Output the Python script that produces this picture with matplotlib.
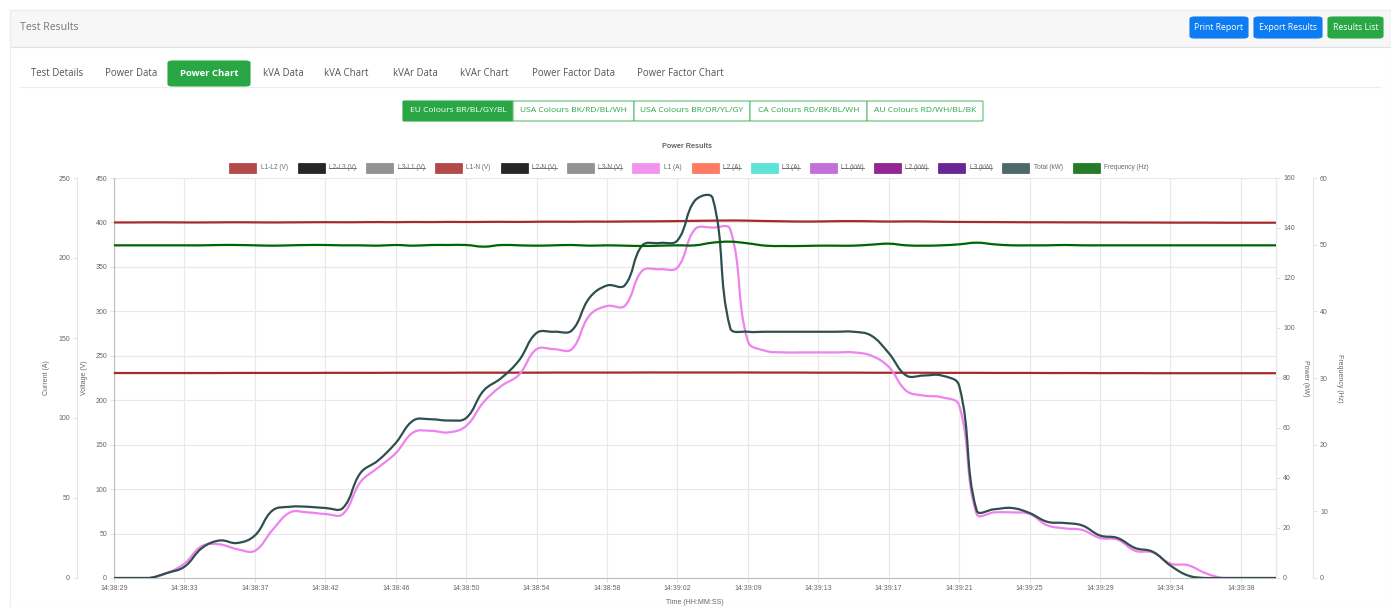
import matplotlib
matplotlib.use("Agg")
import matplotlib.pyplot as plt
import numpy as np
from matplotlib.patches import Rectangle, FancyBboxPatch, PathPatch
from matplotlib.path import Path
from matplotlib.lines import Line2D

# ---------------- data ----------------
time_labels = ["14:38:29", "14:38:33", "14:38:37", "14:38:42", "14:38:46", "14:38:50",
               "14:38:54", "14:38:58", "14:39:02", "14:39:09", "14:39:13", "14:39:17",
               "14:39:21", "14:39:25", "14:39:29", "14:39:34", "14:39:38"]
label_every = 4

total_kw = [0, 0, 0, 2, 4.5, 12, 15, 14, 17, 27,
            28.5, 28.5, 28, 28, 42, 47, 54, 63, 63.5, 63,
            64, 75, 80, 87, 98, 98.5, 99, 112, 117, 117,
            133, 134, 135, 151, 152, 100, 98.5, 98.5, 98.5, 98.5,
            98.5, 98.5, 98.5, 97, 90, 81, 81, 81, 77, 27,
            27.5, 28, 26, 22.5, 22, 21, 17, 16, 12, 10.5,
            5, 1, 0, 0, 0, 0, 0]

l1_amps = [0, 0, 0, 3, 9, 20, 21, 18, 17, 30,
           41, 41, 40, 40, 60, 69, 78, 91, 92, 91,
           95, 110, 120, 127, 143, 143, 143, 164, 170, 170,
           192, 193, 194, 218, 219, 218, 148, 142, 141, 141,
           141, 141, 141, 139, 132, 117, 114, 113, 108, 40,
           41, 41, 40, 33, 31, 30, 25, 24, 17, 16,
           9, 8, 3, 0, 0, 0, 0]

l1_l2_v = [400.0, 400.0, 400.1, 400.1, 400.0, 400.0, 400.1, 400.2, 400.1, 400.0,
           400.1, 400.2, 400.3, 400.2, 400.3, 400.4, 400.3, 400.5, 400.4, 400.6,
           400.5, 400.6, 400.7, 400.6, 400.8, 400.9, 400.8, 401.0, 400.9, 401.1,
           401.2, 401.3, 401.5, 401.8, 402.0, 402.2, 402.0, 401.6, 401.3, 401.0,
           401.1, 401.4, 401.5, 401.3, 401.0, 401.2, 401.1, 400.8, 400.6, 400.5,
           400.4, 400.3, 400.2, 400.2, 400.1, 400.1, 400.0, 400.0, 399.9, 399.9,
           399.8, 399.8, 399.8, 399.7, 399.7, 399.7, 399.7]

l1_n_v = [230.6, 230.6, 230.6, 230.6, 230.6, 230.6, 230.6, 230.7, 230.7, 230.7,
          230.7, 230.7, 230.8, 230.8, 230.8, 230.8, 230.9, 230.9, 230.9, 230.9,
          231.0, 231.0, 231.0, 231.0, 231.0, 231.1, 231.1, 231.1, 231.1, 231.1,
          231.2, 231.2, 231.2, 231.2, 231.2, 231.2, 231.2, 231.1, 231.1, 231.1,
          231.0, 231.0, 231.0, 230.9, 230.9, 230.9, 230.9, 230.8, 230.8, 230.8,
          230.7, 230.7, 230.7, 230.6, 230.6, 230.6, 230.5, 230.5, 230.5, 230.4,
          230.4, 230.4, 230.4, 230.4, 230.4, 230.4, 230.4]

freq_hz = [49.9, 49.9, 49.9, 49.9, 49.9, 49.9, 49.95, 49.95, 49.9, 49.85,
           49.9, 49.95, 49.95, 49.9, 49.9, 49.85, 49.95, 49.85, 49.95, 49.95,
           49.95, 49.7, 49.95, 49.9, 49.85, 49.9, 49.95, 49.85, 49.9, 49.85,
           49.8, 49.85, 49.9, 49.9, 50.3, 50.45, 50.2, 49.85, 49.8, 49.8,
           49.85, 49.85, 49.85, 50.0, 50.15, 49.9, 49.85, 49.9, 50.05, 50.3,
           50.05, 49.9, 49.9, 49.9, 49.95, 49.9, 49.9, 49.9, 49.9, 49.9,
           49.9, 49.9, 49.9, 49.9, 49.9, 49.9, 49.9]

legend_names = ["L1-L2 (V)", "L2-L3 (V)", "L3-L1 (V)", "L1-N (V)", "L2-N (V)", "L3-N (V)",
                "L1 (A)", "L2 (A)", "L3 (A)", "L1 (kW)", "L2 (kW)", "L3 (kW)",
                "Total (kW)", "Frequency (Hz)"]
legend_colors = ["#a52a2a", "#000000", "#808080", "#a52a2a", "#000000", "#808080",
                 "#ee82ee", "#ff6347", "#40e0d0", "#ba55d3", "#800080", "#4b0082",
                 "#2f4f4f", "#006400"]
legend_hidden = [False, True, True, False, True, True,
                 False, True, True, True, True, True, False, False]

tabs = ["Test Details", "Power Data", "Power Chart", "kVA Data", "kVA Chart", "kVAr Data",
        "kVAr Chart", "Power Factor Data", "Power Factor Chart"]
colour_buttons = ["EU Colours BR/BL/GY/BL", "USA Colours BK/RD/BL/WH", "USA Colours BR/OR/YL/GY",
                  "CA Colours RD/BK/BL/WH", "AU Colours RD/WH/BL/BK"]
top_buttons = ["Print Report", "Export Results", "Results List"]

# ---------------- figure ----------------
W, H = 1391, 607
fig = plt.figure(figsize=(W / 100, H / 100), dpi=100)
fig.patch.set_facecolor("white")
PX = 0.72  # points per pixel at 100 dpi


def fx(x):
    return x / W


def fy(y):
    return 1 - y / H


PAGE_FONT = ["Open Sans", "DejaVu Sans"]
CHART_FONT = ["Liberation Sans", "DejaVu Sans"]

# header bar
fig.patches.append(Rectangle((fx(10), fy(47)), fx(1391) - fx(10), (47 - 10) / H,
                             transform=fig.transFigure, fc="#f7f7f7", ec="#e2e2e2", lw=0.8, zorder=0))
fig.patches.append(Rectangle((fx(10), fy(607)), fx(1391) - fx(10), (607 - 10) / H,
                             transform=fig.transFigure, fc="none", ec="#ececec", lw=0.8, zorder=0))
fig.text(fx(20), fy(28), "Test Results", fontsize=7.6, color="#777777", va="center", ha="left",
         family=PAGE_FONT)


def button(x0, x1, y0, y1, text, fc, tc, ec=None, fs=5.5, bold=False, radius=2):
    p = FancyBboxPatch((fx(x0), fy(y1)), fx(x1) - fx(x0), (y1 - y0) / H,
                       boxstyle="round,pad=0,rounding_size=%f" % (radius / H),
                       transform=fig.transFigure, fc=fc, ec=ec if ec else fc, lw=0.8, zorder=1)
    fig.patches.append(p)
    fig.text(fx((x0 + x1) / 2), fy((y0 + y1) / 2), text, fontsize=fs, color=tc, ha="center",
             va="center", family=PAGE_FONT, fontweight="bold" if bold else "normal", zorder=2)


btn_x = [(1190, 1248), (1254, 1322), (1328, 1383)]
btn_c = ["#0d7bf2", "#0d7bf2", "#2aa745"]
for (x0, x1), t, c in zip(btn_x, top_buttons, btn_c):
    button(x0, x1, 17, 38, t, c, "white", fs=6.2)

# tabs
tab_x = [57, 131, 209, 283, 346, 415, 484, 573, 680]
for t, x in zip(tabs, tab_x):
    if t == "Power Chart":
        button(168, 250, 61, 86, t, "#2aa745", "white", fs=6.8, bold=True)
    else:
        fig.text(fx(x), fy(73), t, fontsize=6.9, color="#555555", ha="center", va="center",
                 family=PAGE_FONT)
fig.add_artist(Line2D([fx(20), fx(1380)], [fy(87), fy(87)], color="#ececec", lw=0.8,
                      transform=fig.transFigure))

# colour scheme buttons
cb_x = [(403, 513), (513, 634), (634, 750), (750, 867), (867, 983)]
for i, ((x0, x1), t) in enumerate(zip(cb_x, colour_buttons)):
    if i == 0:
        button(x0, x1, 101, 121, t, "#2aa745", "white", fs=6.1, radius=0.5)
    else:
        button(x0, x1, 101, 121, t, "white", "#2aa745", ec="#5cbf72", fs=6.1, radius=0.5)

# ---------------- chart ----------------
L, R, T, B = 114, 1276, 178, 578
ax = fig.add_axes([fx(L), fy(B), (R - L) / W, (B - T) / H])
n = len(total_kw)
ax.set_xlim(0, n - 1)
ax.set_ylim(0, 450)
ax.set_yticks(np.arange(0, 451, 50))
ax.set_xticks(np.arange(0, n, label_every))
ax.set_xticklabels(time_labels)
ax.grid(True, color="#e8e8e8", lw=0.8)
ax.set_axisbelow(True)
ax.spines["top"].set_visible(False)
ax.spines["right"].set_color("#e8e8e8")
ax.spines["left"].set_color("#bdbdbd")
ax.spines["bottom"].set_color("#bdbdbd")
ax.tick_params(axis="both", labelsize=5, labelcolor="#666666", color="#dddddd",
               length=4 * PX, width=0.6, direction="out", pad=3 * PX)
for lab in ax.get_xticklabels() + ax.get_yticklabels():
    lab.set_family(CHART_FONT)

ax_c = ax.twinx()
ax_c.set_ylim(0, 250)
ax_c.set_yticks(np.arange(0, 251, 50))
ax_c.yaxis.set_ticks_position("left")
ax_c.spines["left"].set_visible(True)
ax_c.spines["left"].set_position(("outward", 37 * PX))
ax_c.spines["left"].set_color("#e3e3e3")
for s in ["right", "top", "bottom"]:
    ax_c.spines[s].set_visible(False)

ax_p = ax.twinx()
ax_p.set_ylim(0, 160)
ax_p.set_yticks(np.arange(0, 161, 20))
for s in ["left", "top", "bottom"]:
    ax_p.spines[s].set_visible(False)
ax_p.spines["right"].set_color("#e8e8e8")

ax_f = ax.twinx()
ax_f.set_ylim(0, 60)
ax_f.set_yticks(np.arange(0, 61, 10))
ax_f.spines["right"].set_position(("outward", 37 * PX))
ax_f.spines["right"].set_color("#e3e3e3")
for s in ["left", "top", "bottom"]:
    ax_f.spines[s].set_visible(False)

for a in (ax_c, ax_p, ax_f):
    a.tick_params(axis="y", labelsize=5, labelcolor="#666666", color="#dddddd",
                  length=4 * PX, width=0.6, pad=3 * PX)
    for lab in a.get_yticklabels():
        lab.set_family(CHART_FONT)
    a.patch.set_visible(False)


def smooth_line(axis, ys, color, lw=1.6, tension=0.4, z=3):
    xs = np.arange(len(ys), dtype=float)
    pts = np.column_stack([xs, np.asarray(ys, dtype=float)])
    tr = axis.transData
    d = tr.transform(pts)
    m = len(d)
    prev_cp = np.zeros_like(d)
    next_cp = np.zeros_like(d)
    for i in range(m):
        p0 = d[max(i - 1, 0)]
        p1 = d[i]
        p2 = d[min(i + 1, m - 1)]
        d01 = np.hypot(*(p1 - p0))
        d12 = np.hypot(*(p2 - p1))
        tot = d01 + d12
        s01 = d01 / tot if tot else 0.0
        s12 = d12 / tot if tot else 0.0
        prev_cp[i] = p1 - tension * s01 * (p2 - p0)
        next_cp[i] = p1 + tension * s12 * (p2 - p0)
    # keep control points inside the chart area
    y_lo, y_hi = tr.transform([(0, axis.get_ylim()[0]), (0, axis.get_ylim()[1])])[:, 1]
    prev_cp[:, 1] = np.clip(prev_cp[:, 1], y_lo, y_hi)
    next_cp[:, 1] = np.clip(next_cp[:, 1], y_lo, y_hi)
    inv = tr.inverted()
    prev_cp = inv.transform(prev_cp)
    next_cp = inv.transform(next_cp)
    verts = [pts[0]]
    codes = [Path.MOVETO]
    for i in range(m - 1):
        verts += [next_cp[i], prev_cp[i + 1], pts[i + 1]]
        codes += [Path.CURVE4] * 3
    patch = PathPatch(Path(verts, codes), fc="none", ec=color, lw=lw, transform=tr,
                      zorder=z, capstyle="round", joinstyle="round")
    axis.add_patch(patch)


smooth_line(ax_f, freq_hz, legend_colors[13], z=2)
smooth_line(ax_p, total_kw, legend_colors[12], z=3)
smooth_line(ax_c, l1_amps, legend_colors[6], z=2)
smooth_line(ax, l1_n_v, legend_colors[3], z=4)
smooth_line(ax, l1_l2_v, legend_colors[0], z=4)

# axis titles
fig.text(fx(47), fy(378), "Current (A)", rotation=90, fontsize=5, color="#666666",
         ha="center", va="center", family=CHART_FONT)
fig.text(fx(85), fy(378), "Voltage (V)", rotation=90, fontsize=5, color="#666666",
         ha="center", va="center", family=CHART_FONT)
fig.text(fx(1305), fy(378), "Power (kW)", rotation=270, fontsize=5, color="#666666",
         ha="center", va="center", family=CHART_FONT)
fig.text(fx(1340), fy(378), "Frequency (Hz)", rotation=270, fontsize=5, color="#666666",
         ha="center", va="center", family=CHART_FONT)
fig.text(fx(695), fy(603), "Time (HH:MM:SS)", fontsize=5, color="#666666",
         ha="center", va="center", family=CHART_FONT)
fig.text(fx(687), fy(147), "Power Results", fontsize=5.2, color="#666666", fontweight="bold",
         ha="center", va="center", family=CHART_FONT)

# legend (manual, Chart.js style with struck-through hidden entries)
fig.canvas.draw()
renderer = fig.canvas.get_renderer()
box_w, box_h, gap_t, gap_e = 27, 10, 4.5, 10
widths = []
total_w = 0
for name in legend_names:
    t = fig.text(0, 0, name, fontsize=4.7, family=CHART_FONT)
    w = t.get_window_extent(renderer).width
    t.remove()
    widths.append(w)
    total_w += box_w + gap_t + w
total_w += gap_e * (len(legend_names) - 1)
x = 689 - total_w / 2
ly = 168
for name, col, hid, w in zip(legend_names, legend_colors, legend_hidden, widths):
    fig.patches.append(Rectangle((fx(x), fy(ly + box_h / 2)), box_w / W, box_h / H,
                                 transform=fig.transFigure, fc=col, ec=col, lw=0.5, alpha=0.85))
    tx = x + box_w + gap_t
    fig.text(fx(tx), fy(ly), name, fontsize=4.7, color="#666666", ha="left", va="center",
             family=CHART_FONT)
    if hid:
        fig.add_artist(Line2D([fx(tx), fx(tx + w)], [fy(ly), fy(ly)], color="#666666", lw=0.6,
                              transform=fig.transFigure))
    x = tx + w + gap_e

fig.savefig("out.png", dpi=100)
